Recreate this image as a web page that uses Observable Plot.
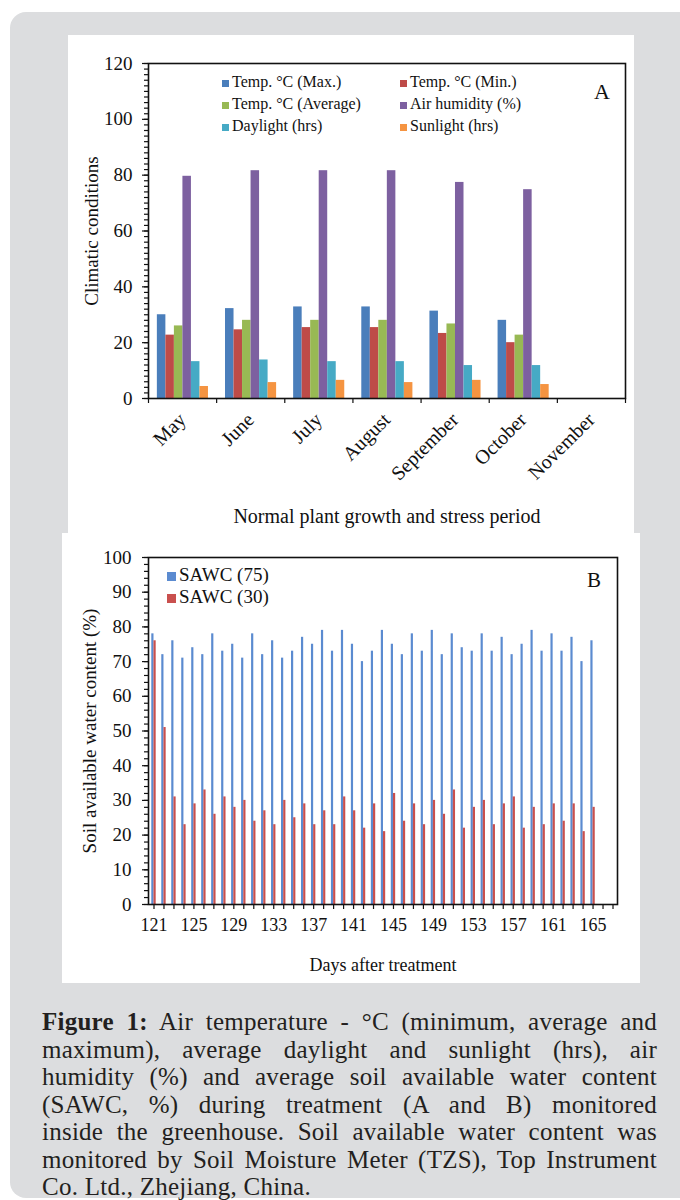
<!DOCTYPE html>
<html>
<head>
<meta charset="utf-8">
<script src="https://cdn.jsdelivr.net/npm/d3@7"></script>
<script src="https://cdn.jsdelivr.net/npm/@observablehq/plot@0.6"></script>
<style>
  html, body { margin: 0; padding: 0; background: #ffffff; }
  body { width: 680px; height: 1200px; position: relative; overflow: hidden; font-family: "Liberation Serif", "Times New Roman", serif; }
  #panel { position: absolute; left: 10px; top: 12px; width: 700px; height: 1186px; background: #dcdddf; border-radius: 16px; }
  .box { position: absolute; background: #ffffff; }
  #boxA { left: 68px; top: 35px; width: 566px; height: 498px; }
  #boxB { left: 62px; top: 533px; width: 578px; height: 450px; }
  .box svg { display: block; }
  .leg { position: absolute; font-family: "Liberation Serif", "Times New Roman", serif; color: #111; white-space: nowrap; line-height: 1; }
  .leg i { display: inline-block; vertical-align: middle; margin-right: 3px; }
  .tag { position: absolute; font-family: "Liberation Serif", "Times New Roman", serif; color: #111; }
  #caption { position: absolute; left: 42px; top: 1008px; width: 615px; font-family: "Liberation Serif", "Times New Roman", serif; font-size: 25px; letter-spacing: 0.25px; line-height: 27.5px; color: #231f20; }
  #caption div { text-align: justify; text-align-last: justify; }
  #caption div.last { text-align-last: left; }
</style>
</head>
<body>
<div id="panel"></div>
<div class="box" id="boxA"></div>
<div class="box" id="boxB"></div>
<div id="caption"></div>
<script>
// ---------- Data: chart A ----------
const months = ["May", "June", "July", "August", "September", "October", "November"];
const seriesNames = ["Temp. °C (Max.)", "Temp. °C (Min.)", "Temp. °C (Average)", "Air humidity (%)", "Daylight (hrs)", "Sunlight (hrs)"];
const seriesColors = ["#4a7ebb", "#be4b48", "#98b954", "#7d60a0", "#46aac5", "#f59441"];
const tempMax   = [30.0, 32.2, 32.8, 32.8, 31.3, 28.0, null];
const tempMin   = [22.7, 24.6, 25.4, 25.4, 23.3, 20.0, null];
const tempAvg   = [26.0, 28.0, 28.0, 28.0, 26.7, 22.7, null];
const humidity  = [79.6, 81.6, 81.6, 81.6, 77.4, 74.8, null];
const daylight  = [13.2, 13.8, 13.2, 13.2, 11.8, 11.8, null];
const sunlight  = [4.3, 5.7, 6.5, 5.7, 6.5, 5.0, null];
const yTicksA = [0, 20, 40, 60, 80, 100, 120];

// ---------- Data: chart B ----------
const days = [121,122,123,124,125,126,127,128,129,130,131,132,133,134,135,136,137,138,139,140,141,142,143,144,145,146,147,148,149,150,151,152,153,154,155,156,157,158,159,160,161,162,163,164,165];
const sawc75 = [78,72,76,71,74,72,78,73,75,71,78,72,76,71,73,77,75,79,73,79,75,70,73,79,75,72,78,73,79,72,78,74,73,78,73,77,72,75,79,73,78,73,77,70,76];
const sawc30 = [76,51,31,23,29,33,26,31,28,30,24,27,23,30,25,29,23,27,23,31,27,22,29,21,32,24,29,23,30,26,33,22,28,30,23,29,31,22,28,23,29,24,29,21,28];
const xTickLabelsB = [121,125,129,133,137,141,145,149,153,157,161,165];
const yTicksB = [0,10,20,30,40,50,60,70,80,90,100];
const sawcNames = ["SAWC (75)", "SAWC (30)"];
const sawcColors = ["#5b8bd0", "#c9504e"];

const FONT = "Liberation Serif, Times New Roman, serif";

// ---------- Chart A ----------
const seriesArrays = [tempMax, tempMin, tempAvg, humidity, daylight, sunlight];
const tableA = [];
months.forEach((m, i) => {
  seriesArrays.forEach((arr, j) => {
    if (arr[i] != null) tableA.push({i, j, month: m, series: seriesNames[j], value: arr[i]});
  });
});
const groupStart = 0.13, barW = 0.125;

const chartA = Plot.plot({
  width: 566, height: 498,
  marginLeft: 80, marginRight: 9, marginTop: 28, marginBottom: 135,
  style: {fontFamily: FONT, fontSize: "19px", color: "#111", background: "white"},
  x: {domain: [-0.5, months.length - 0.5]},
  y: {domain: [0, 120]},
  color: {domain: seriesNames, range: seriesColors},
  marks: [
    Plot.rect(tableA, {
      x1: d => d.i - 0.5 + groupStart + d.j * barW,
      x2: d => d.i - 0.5 + groupStart + (d.j + 1) * barW,
      y1: 0, y2: "value", fill: "series"
    }),
    Plot.axisY({ticks: d3.range(0, 121, 2), tickSize: 4, text: null, label: null, strokeWidth: 1.2}),
    Plot.axisY({ticks: yTicksA, tickSize: 6, tickPadding: 10, fontSize: 19, strokeWidth: 1.2,
      label: "Climatic conditions", labelAnchor: "center", labelOffset: 64, labelArrow: "none"}),
    Plot.axisX({ticks: d3.range(-0.5, months.length, 1), tickSize: 5, text: null, label: null, strokeWidth: 1.2}),
    Plot.axisX({ticks: d3.range(0, months.length), tickSize: 0, tickPadding: 18, tickRotate: -45, fontSize: 20,
      tickFormat: i => months[i], label: "Normal plant growth and stress period", labelAnchor: "center",
      labelOffset: 124, labelArrow: "none"}),
    Plot.frame({stroke: "#111", strokeWidth: 1.6})
  ]
});
document.getElementById("boxA").appendChild(chartA);

// Legend A (inside plot area)
seriesNames.forEach((name, j) => {
  const col = j % 2, row = Math.floor(j / 2);
  const el = document.createElement("div");
  el.className = "leg";
  el.style.left = (col === 0 ? 222 - 68 : 400 - 68) + "px";
  el.style.top = (82 - 35 - 8 + row * 22) + "px";
  el.style.fontSize = "16px";
  el.innerHTML = `<i style="width:7px;height:7px;background:${seriesColors[j]}"></i>${name}`;
  document.getElementById("boxA").appendChild(el);
});
const tagA = document.createElement("div");
tagA.className = "tag"; tagA.textContent = "A";
tagA.style.cssText += "left:526px;top:44px;font-size:22px;";
document.getElementById("boxA").appendChild(tagA);

// ---------- Chart B ----------
const tableB = [];
days.forEach((d, k) => {
  tableB.push({day: d, s: 0, value: sawc75[k]});
  tableB.push({day: d, s: 1, value: sawc30[k]});
});
const chartB = Plot.plot({
  width: 578, height: 450,
  marginLeft: 86, marginRight: 23, marginTop: 24, marginBottom: 79,
  style: {fontFamily: FONT, fontSize: "18px", color: "#111", background: "white"},
  x: {domain: [120.45, 167.45]},
  y: {domain: [0, 100]},
  marks: [
    Plot.rect(tableB, {
      x1: d => d.day - 0.22 + d.s * 0.22,
      x2: d => d.day + d.s * 0.22,
      y1: 0, y2: "value",
      fill: d => sawcColors[d.s]
    }),
    Plot.axisY({ticks: d3.range(0, 101, 2), tickSize: 4, text: null, label: null, strokeWidth: 1.2}),
    Plot.axisY({ticks: yTicksB, tickSize: 6, tickPadding: 11, fontSize: 19, strokeWidth: 1.2,
      label: "Soil available water content (%)", labelAnchor: "center", labelOffset: 66, labelArrow: "none"}),
    Plot.axisX({ticks: d3.range(121, 168), tickSize: 5, text: null, label: null, strokeWidth: 1.2}),
    Plot.axisX({ticks: xTickLabelsB, tickSize: 0, tickPadding: 14, fontSize: 18, tickFormat: d => String(d),
      label: "Days after treatment", labelAnchor: "center", labelOffset: 66, labelArrow: "none"}),
    Plot.frame({stroke: "#111", strokeWidth: 1.6})
  ]
});
document.getElementById("boxB").appendChild(chartB);

sawcNames.forEach((name, s) => {
  const el = document.createElement("div");
  el.className = "leg";
  el.style.left = (167 - 62) + "px";
  el.style.top = (575 - 533 - 10 + s * 22) + "px";
  el.style.fontSize = "19px";
  el.innerHTML = `<i style="width:9px;height:9px;background:${sawcColors[s]}"></i>${name}`;
  document.getElementById("boxB").appendChild(el);
});
const tagB = document.createElement("div");
tagB.className = "tag"; tagB.textContent = "B";
tagB.style.cssText += "left:525px;top:35px;font-size:21px;";
document.getElementById("boxB").appendChild(tagB);

// ---------- Caption ----------
const captionLines = [
  "<b>Figure 1:</b> Air temperature - °C (minimum, average and",
  "maximum), average daylight and sunlight (hrs), air",
  "humidity (%) and average soil available water content",
  "(SAWC, %) during treatment (A and B) monitored",
  "inside the greenhouse. Soil available water content was",
  "monitored by Soil Moisture Meter (TZS), Top Instrument",
  "Co. Ltd., Zhejiang, China."
];
const cap = document.getElementById("caption");
captionLines.forEach((t, k) => {
  const el = document.createElement("div");
  if (k === captionLines.length - 1) el.className = "last";
  el.innerHTML = t;
  cap.appendChild(el);
});
</script>
</body>
</html>
